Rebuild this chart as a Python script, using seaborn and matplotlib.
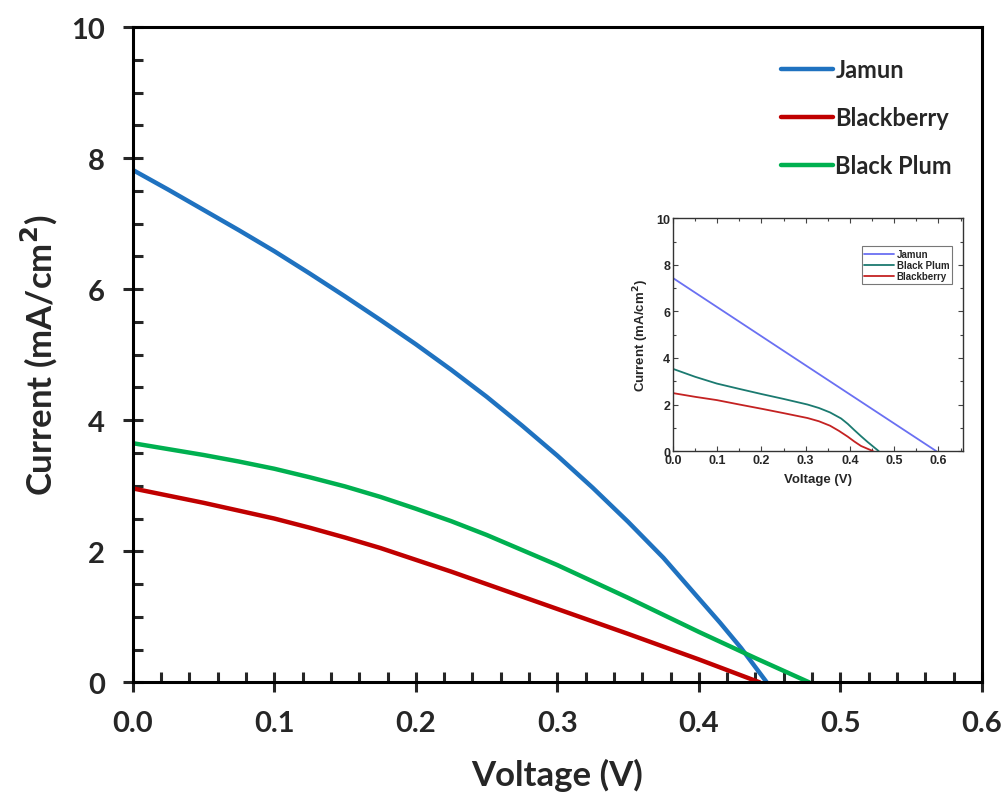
import numpy as np
import pandas as pd
import matplotlib
matplotlib.use("Agg")
import matplotlib.pyplot as plt
import seaborn as sns
from matplotlib.ticker import MultipleLocator

sns.set_style("white")
plt.rcParams['font.family'] = ['Lato', 'DejaVu Sans']

# main plot data
jamun_v = [0, 0.025, 0.05, 0.075, 0.1, 0.125, 0.15, 0.175, 0.2, 0.225, 0.25, 0.275,
           0.3, 0.325, 0.35, 0.375, 0.4, 0.415, 0.43, 0.448]
jamun_i = [7.82, 7.52, 7.21, 6.90, 6.58, 6.24, 5.89, 5.53, 5.16, 4.77, 4.36, 3.92,
           3.46, 2.97, 2.45, 1.90, 1.28, 0.91, 0.52, 0.0]
berry_v = [0, 0.025, 0.05, 0.075, 0.1, 0.125, 0.15, 0.175, 0.2, 0.225, 0.25, 0.3, 0.35, 0.4, 0.443]
berry_i = [2.96, 2.85, 2.74, 2.62, 2.50, 2.36, 2.21, 2.05, 1.87, 1.69, 1.50, 1.12, 0.74, 0.35, 0.0]
plum_v = [0, 0.025, 0.05, 0.075, 0.1, 0.125, 0.15, 0.175, 0.2, 0.225, 0.25, 0.3, 0.35, 0.4, 0.44, 0.478]
plum_i = [3.65, 3.56, 3.47, 3.37, 3.26, 3.13, 2.99, 2.83, 2.65, 2.46, 2.25, 1.79, 1.29, 0.77, 0.37, 0.0]

# inset data
in_jamun_v = [0, 0.3, 0.595]
in_jamun_i = [7.43, 3.68, 0.0]
in_plum_v = [0, 0.05, 0.099, 0.15, 0.2, 0.25, 0.304, 0.33, 0.355, 0.38, 0.395, 0.41, 0.425, 0.44, 0.465]
in_plum_i = [3.53, 3.19, 2.90, 2.67, 2.45, 2.24, 2.00, 1.85, 1.66, 1.40, 1.17, 0.90, 0.64, 0.39, 0.0]
in_berry_v = [0, 0.05, 0.099, 0.15, 0.205, 0.25, 0.304, 0.33, 0.355, 0.375, 0.395, 0.41, 0.425, 0.452]
in_berry_i = [2.49, 2.33, 2.19, 2.00, 1.80, 1.63, 1.42, 1.28, 1.09, 0.87, 0.62, 0.41, 0.22, 0.0]


def make_df(groups):
    rows = []
    for name, v, i in groups:
        for k, (a, b) in enumerate(zip(v, i)):
            rows.append({"Sample": name, "V": a, "I": b, "order": k})
    return pd.DataFrame(rows)


main_df = make_df([("Jamun", jamun_v, jamun_i),
                   ("Blackberry", berry_v, berry_i),
                   ("Black Plum", plum_v, plum_i)])
inset_df = make_df([("Jamun", in_jamun_v, in_jamun_i),
                    ("Black Plum", in_plum_v, in_plum_i),
                    ("Blackberry", in_berry_v, in_berry_i)])

main_pal = {"Jamun": "#1F72C0", "Blackberry": "#C00000", "Black Plum": "#00B050"}
inset_pal = {"Jamun": "#6A70F2", "Black Plum": "#1B7A70", "Blackberry": "#C42222"}

fig = plt.figure(figsize=(10.06, 8.03), dpi=100)
ax = fig.add_axes([0.132, 0.149, 0.844, 0.816])

sns.lineplot(data=main_df, x="V", y="I", hue="Sample", hue_order=["Jamun", "Blackberry", "Black Plum"],
             palette=main_pal, sort=False, estimator=None, linewidth=3.2, ax=ax)
ax.set_xlim(0, 0.6)
ax.set_ylim(0, 10)
ax.xaxis.set_major_locator(MultipleLocator(0.1))
ax.xaxis.set_minor_locator(MultipleLocator(0.02))
ax.yaxis.set_major_locator(MultipleLocator(2))
ax.yaxis.set_minor_locator(MultipleLocator(0.5))
ax.set_xticklabels([f"{t:.1f}" for t in ax.get_xticks()])
ax.tick_params(which="major", direction="inout", length=14, width=2.2, labelsize=21,
               bottom=True, left=True, pad=13)
ax.tick_params(which="minor", direction="in", length=7, width=2.2, bottom=True, left=True)
for lab in ax.get_xticklabels() + ax.get_yticklabels():
    lab.set_fontweight("bold")
for s in ax.spines.values():
    s.set_linewidth(2.2)
    s.set_color("black")
ax.set_xlabel("Voltage (V)", fontsize=25, fontweight="bold", labelpad=16)
ax.set_ylabel("Current (mA/cm$^\\mathbf{2}$)", fontsize=25, fontweight="bold", labelpad=8)
leg = ax.legend(loc="upper right", bbox_to_anchor=(0.99, 0.985), frameon=False, fontsize=17,
                handlelength=2.2, handletextpad=0.1, labelspacing=1.05)
for t in leg.get_texts():
    t.set_fontweight("bold")

# inset
ins = fig.add_axes([0.669, 0.437, 0.288, 0.290])
sns.lineplot(data=inset_df, x="V", y="I", hue="Sample", hue_order=["Jamun", "Black Plum", "Blackberry"],
             palette=inset_pal, sort=False, estimator=None, linewidth=1.3, ax=ins)
ins.set_xlim(0, 0.655)
ins.set_ylim(0, 10)
ins.xaxis.set_minor_locator(MultipleLocator(0.05))
ins.yaxis.set_major_locator(MultipleLocator(2))
ins.yaxis.set_minor_locator(MultipleLocator(1))
ins.set_xticks([0, 0.1, 0.2, 0.3, 0.4, 0.5, 0.6])
ins.set_xticklabels(["0.0", "0.1", "0.2", "0.3", "0.4", "0.5", "0.6"])
ins.tick_params(which="both", direction="in", top=True, right=True, bottom=True, left=True,
                width=0.8, color="#444444")
ins.tick_params(which="major", length=3.5, labelsize=9, pad=2)
ins.tick_params(which="minor", length=2)
for lab in ins.get_xticklabels() + ins.get_yticklabels():
    lab.set_fontweight("bold")
    lab.set_family(["Liberation Sans", "DejaVu Sans"])
for s in ins.spines.values():
    s.set_linewidth(1.0)
    s.set_color("#333333")
ins.set_xlabel("Voltage (V)", fontsize=9.5, fontweight="bold", family=["Liberation Sans", "DejaVu Sans"], labelpad=5)
ins.set_ylabel("Current (mA/cm$^\\mathbf{2}$)", fontsize=9.5, fontweight="bold",
               family=["Liberation Sans", "DejaVu Sans"], labelpad=4)
ileg = ins.legend(loc="upper right", bbox_to_anchor=(0.98, 0.9), frameon=True,
                  handlelength=3.0, handletextpad=0.3, labelspacing=0.1, borderpad=0.3,
                  fancybox=False, prop={"family": ["Liberation Sans"], "size": 7, "weight": "bold"})
ileg.get_frame().set_edgecolor("#555555")
ileg.get_frame().set_linewidth(0.8)

fig.savefig("out.png", dpi=100)
